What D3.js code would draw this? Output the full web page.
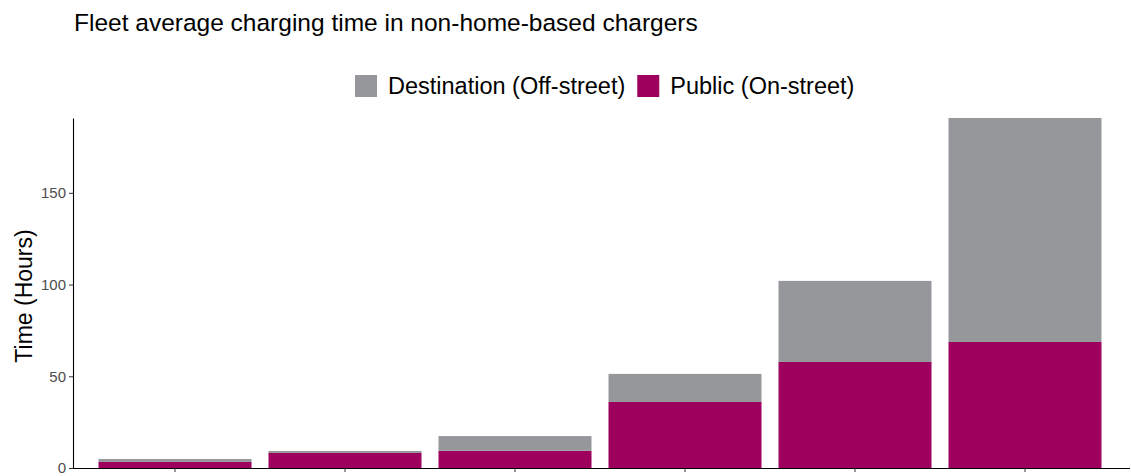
<!DOCTYPE html>
<html><head><meta charset="utf-8">
<script src="https://cdn.jsdelivr.net/npm/d3@7"></script>
<style>body{margin:0;background:#fff;} svg{display:block;font-family:Arial,"Liberation Sans",sans-serif;}</style>
</head><body>
<svg id="chart" width="1131" height="476"></svg>
<script>
const categories = ["A", "B", "C", "D", "E", "F"];
const publicValues = [3.3, 8.2, 9.4, 36.0, 57.8, 68.7];
const destinationValues = [1.6, 1.1, 8.0, 15.3, 44.2, 122.1];
const seriesNames = ["Destination (Off-street)", "Public (On-street)"];
const yTicks = [0, 50, 100, 150];

const colors = {"Destination (Off-street)": "#96979b", "Public (On-street)": "#9e005d"};
const svg = d3.select("#chart");
const margin = {left: 73, right: 4, top: 118, bottom: 8};
const W = 1131, H = 476;
const plotRight = W - margin.right, plotBottom = H - margin.bottom;

const rows = categories.map((c, i) => ({cat: c, "Public (On-street)": publicValues[i], "Destination (Off-street)": destinationValues[i]}));
const stack = d3.stack().keys(["Public (On-street)", "Destination (Off-street)"]);
const stacked = stack(rows);

const x = d3.scaleBand().domain(categories)
  .range([margin.left, plotRight])
  .paddingInner(0.1).paddingOuter(0.15);
const y = d3.scaleLinear().domain([0, d3.max(rows, d => d["Public (On-street)"] + d["Destination (Off-street)"])]).range([plotBottom, margin.top]);

svg.append("g").selectAll("g").data(stacked).join("g")
  .attr("fill", s => colors[s.key])
  .selectAll("rect").data(s => s).join("rect")
  .attr("x", d => x(d.data.cat))
  .attr("width", x.bandwidth())
  .attr("y", d => y(d[1]))
  .attr("height", d => y(d[0]) - y(d[1]));

// axes
const yAxis = svg.append("g").attr("transform", `translate(${margin.left},0)`)
  .call(d3.axisLeft(y).tickValues(yTicks).tickSize(4).tickPadding(3).tickSizeOuter(0));
yAxis.select(".domain").attr("stroke", "#000").attr("stroke-width", 1.1);
yAxis.selectAll(".tick line").attr("stroke", "#333");
yAxis.selectAll(".tick text").attr("fill", "#4d4d4d").attr("font-size", 15).attr("font-family", "Arial,'Liberation Sans',sans-serif");

const xAxis = svg.append("g").attr("transform", `translate(0,${plotBottom})`)
  .call(d3.axisBottom(x).tickSize(4).tickSizeOuter(0).tickFormat(() => ""));
xAxis.select(".domain").attr("stroke", "#000").attr("stroke-width", 1.1)
  .attr("d", `M${margin.left},0.5H${plotRight + 3}`);
xAxis.selectAll(".tick line").attr("stroke", "#333");

// title
svg.append("text").attr("x", 74).attr("y", 31).attr("font-size", 24.5).attr("fill", "#000")
  .text("Fleet average charging time in non-home-based chargers");

// y label
svg.append("text").attr("transform", `translate(32,${(margin.top + plotBottom) / 2 + 3}) rotate(-90)`)
  .attr("text-anchor", "middle").attr("font-size", 23).attr("fill", "#000").text("Time (Hours)");

// legend
const legend = svg.append("g");
let lx = 355;
seriesNames.forEach(name => {
  legend.append("rect").attr("x", lx).attr("y", 75).attr("width", 22).attr("height", 22).attr("fill", colors[name]);
  const t = legend.append("text").attr("x", lx + 33).attr("y", 94).attr("font-size", 23.5).attr("fill", "#000").text(name);
  lx += 33 + t.node().getComputedTextLength() + 12;
});
</script>
</body></html>
